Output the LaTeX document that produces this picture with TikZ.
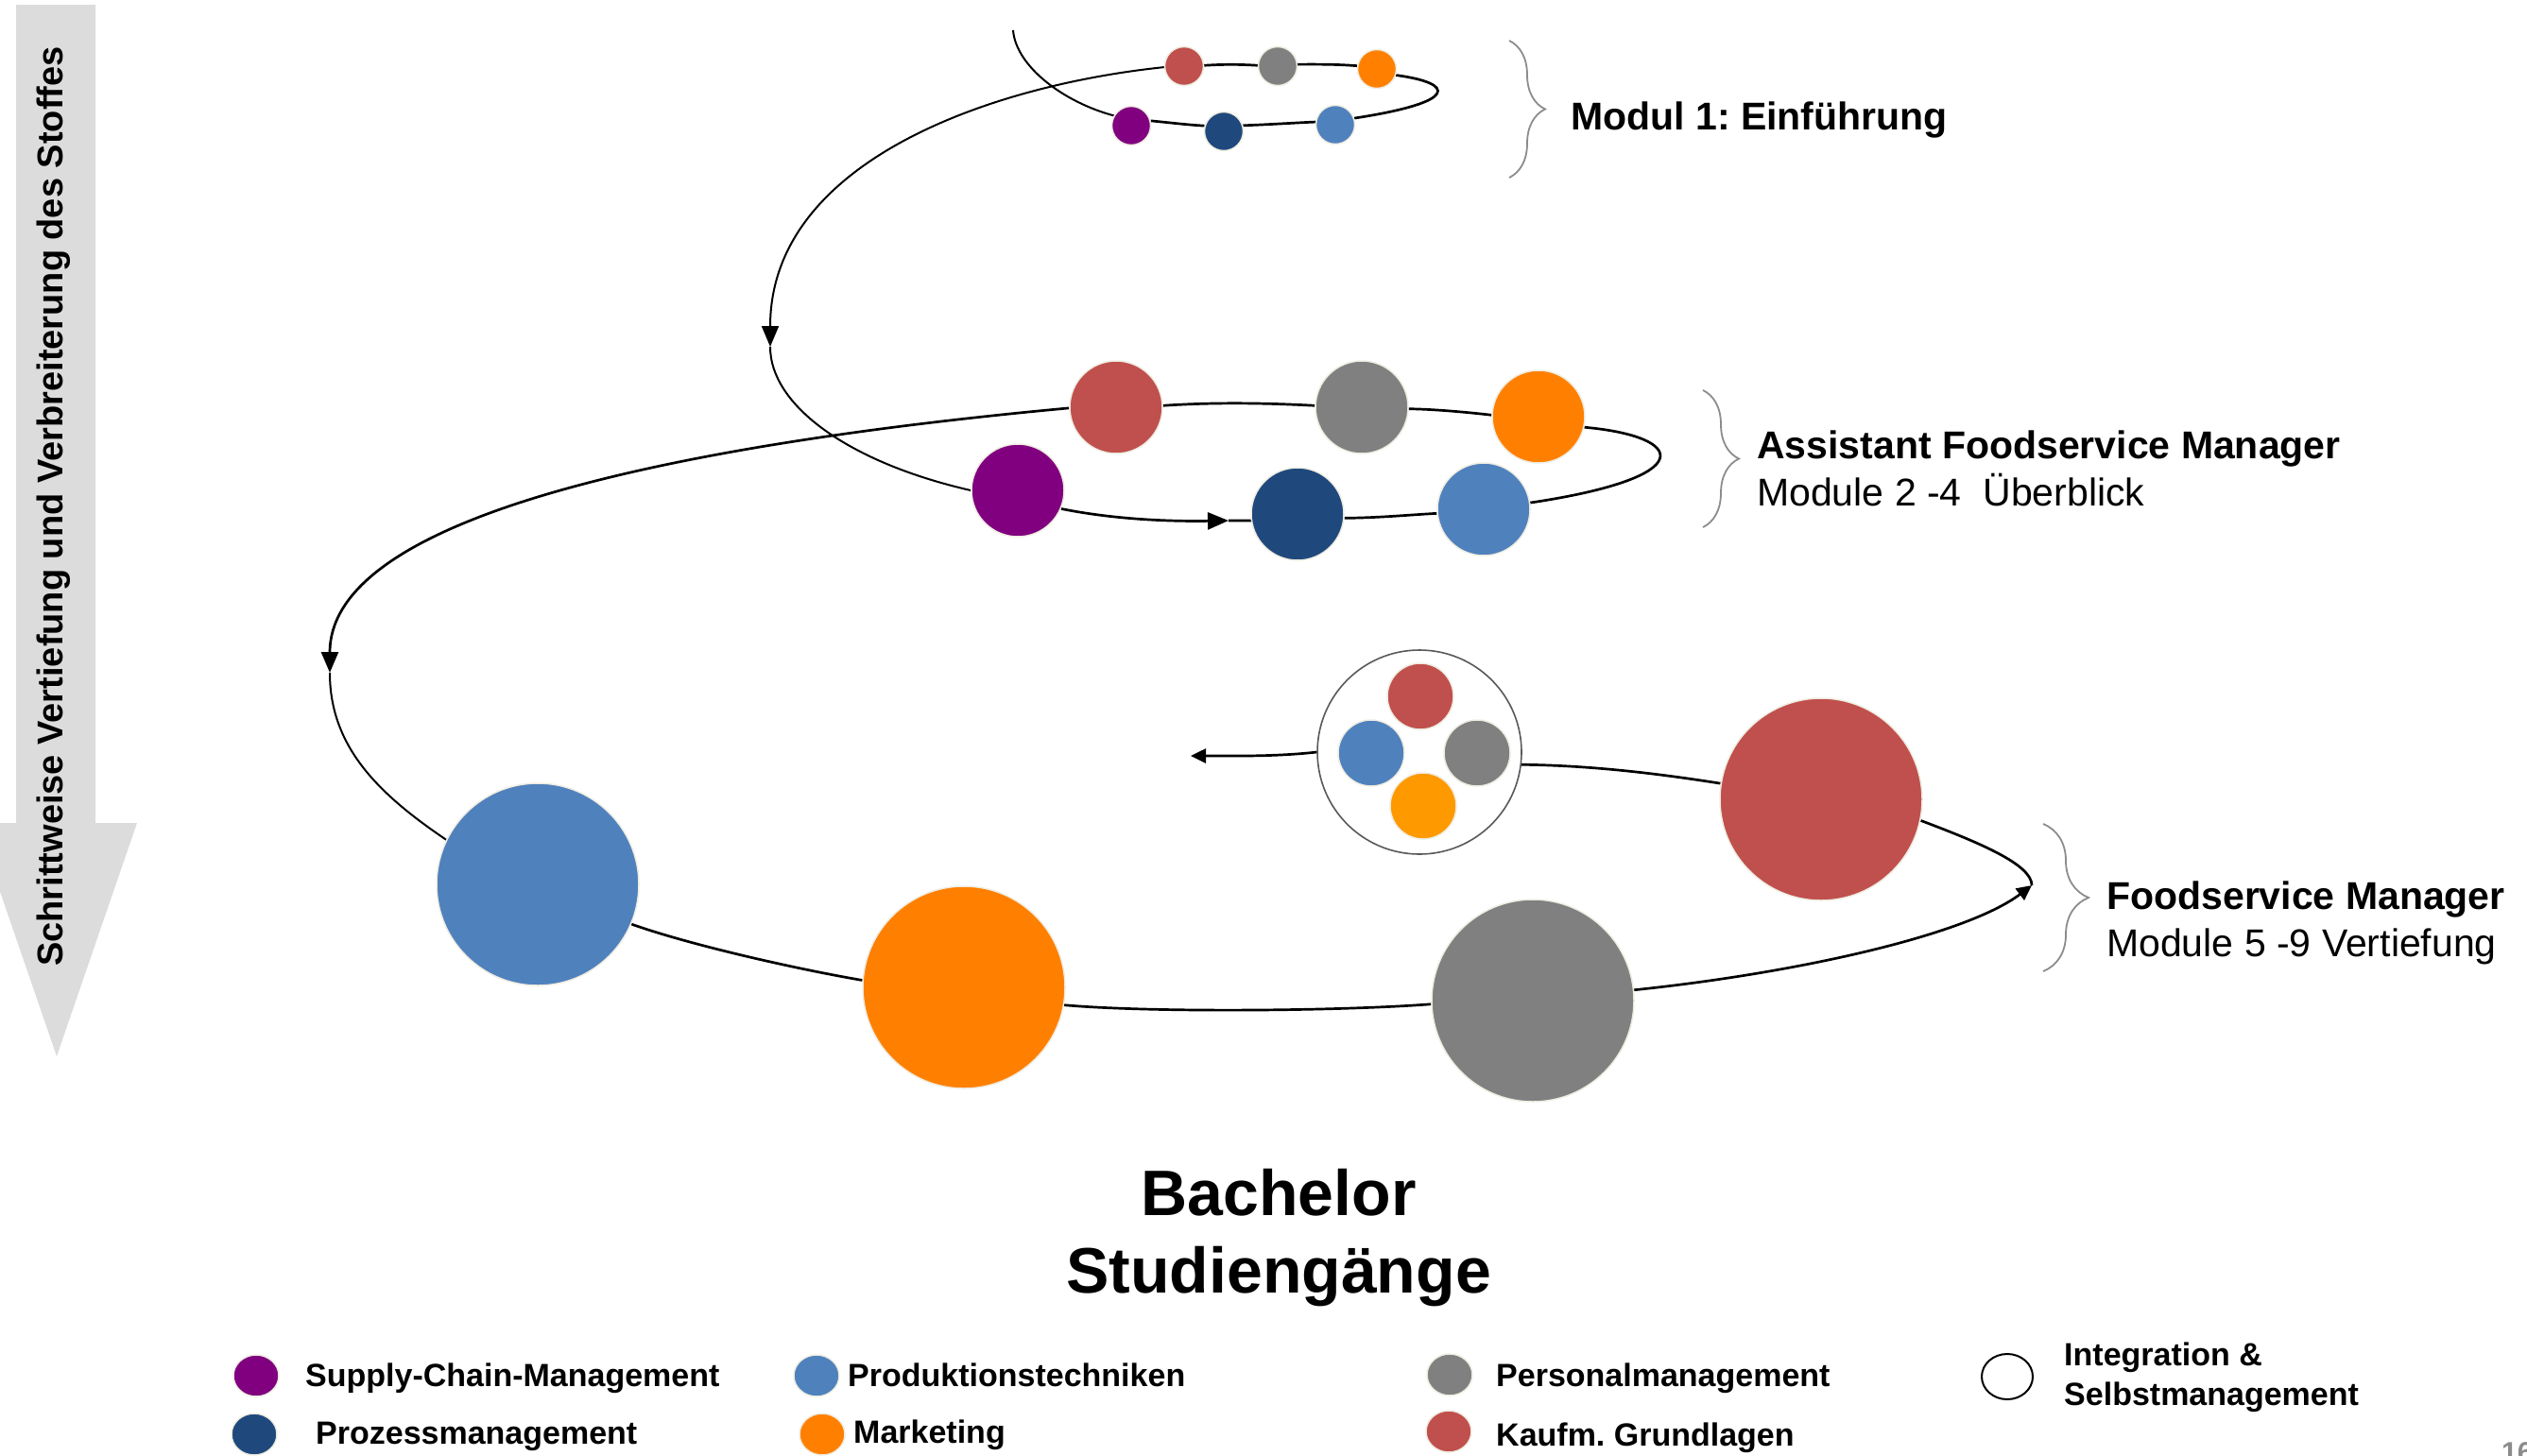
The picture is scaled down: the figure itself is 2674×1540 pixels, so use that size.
\documentclass[tikz,border=0pt]{standalone}
\usepackage{fontspec}
\setmainfont{Liberation Sans}
\usetikzlibrary{arrows.meta,decorations.pathreplacing,shapes.geometric,backgrounds}
\definecolor{cRed}{HTML}{C0504D}
\definecolor{cGray}{HTML}{808080}
\definecolor{cOrange}{HTML}{FF8000}
\definecolor{cPurple}{HTML}{800080}
\definecolor{cDark}{HTML}{1F497D}
\definecolor{cLight}{HTML}{4F81BD}
\definecolor{cOrangeB}{HTML}{FF9900}
\definecolor{cCream}{HTML}{EEECE1}
\definecolor{cArrow}{HTML}{DCDCDC}
\definecolor{cBrace}{HTML}{8C8C8C}
\definecolor{cRing}{HTML}{595959}
\frenchspacing
\begin{document}
\begin{tikzpicture}[x=1pt,y=-1pt,
  ball/.style={circle,fill=#1,draw=cCream,line width=1.5pt,inner sep=0pt},
  sA/.style={minimum size=41pt},
  sB/.style={minimum size=98pt},
  sC/.style={minimum size=214pt},
  sD/.style={minimum size=70pt},
  legdot/.style={ellipse,fill=#1,draw=cCream,line width=1.5pt,inner sep=0pt,minimum width=48pt,minimum height=44pt},
  orbit/.style={line width=2.7pt},
  spiral/.style={line width=2pt},
  bigtip/.style={-{Triangle[length=22pt,width=18pt]}},
  smalltip/.style={-{Triangle[length=16pt,width=15pt]}},
  bracestyle/.style={draw=cBrace,line width=1.8pt,decorate,decoration={brace,amplitude=#1}},
  lab/.style={font=\fontsize{41}{49}\selectfont,anchor=base west,inner sep=0pt},
  labb/.style={font=\bfseries\fontsize{41}{49}\selectfont,anchor=base west,inner sep=0pt},
  leg/.style={font=\bfseries\fontsize{34}{40}\selectfont,anchor=base west,inner sep=0pt},
]
\useasboundingbox (0,0) rectangle (2674,1540);

% side arrow
\fill[cArrow] (17,5) -- (101,5) -- (101,871) -- (145,871) -- (60,1118) -- (-25,871) -- (17,871) -- cycle;
\node[rotate=90,anchor=base west,inner sep=0pt,font=\bfseries\fontsize{38}{44}\selectfont] (side) at (66,1023) {Schrittweise Vertiefung und Verbreiterung des Stoffes};

% level 1
\node[ball=cRed,sA] (r1) at (1253,70) {};
\node[ball=cGray,sA] (g1) at (1352,70) {};
\node[ball=cOrange,sA] (o1) at (1457,73) {};
\node[ball=cPurple,sA] (p1) at (1197,133) {};
\node[ball=cDark,sA] (d1) at (1295,139) {};
\node[ball=cLight,sA] (l1) at (1413,132) {};

% level 2
\node[ball=cRed,sB] (r2) at (1181,431) {};
\node[ball=cGray,sB] (g2) at (1441,431) {};
\node[ball=cOrange,sB] (o2) at (1628,441) {};
\node[ball=cPurple,sB] (p2) at (1077,519) {};
\node[ball=cDark,sB] (d2) at (1373,544) {};
\node[ball=cLight,sB] (l2) at (1570,539) {};

% level 3
\node[ball=cLight,sC] (l3) at (569,936) {};
\node[ball=cOrange,sC] (o3) at (1020,1045) {};
\node[ball=cGray,sC] (g3) at (1622,1059) {};
\node[ball=cRed,sC] (r3) at (1927,846) {};
\node[circle,draw=cRing,line width=1.6pt,fill=white,minimum size=216pt,inner sep=0pt] (ig) at (1502,796) {};
\node[ball=cRed,sD] (ir) at (1503,737) {};
\node[ball=cLight,sD] (ib) at (1451,797) {};
\node[ball=cGray,sD] (igr) at (1563,797) {};
\node[ball=cOrangeB,sD] (io) at (1506,853) {};

% free ends / arrow tips
\coordinate (start) at (1072,32);
\coordinate (t1) at (815,367);
\coordinate (t2) at (1300,551);
\coordinate (t3) at (349,712);
\coordinate (t4) at (2150,937);
\coordinate (t5) at (1260,800);

\begin{pgfonlayer}{background}
% level 1 orbit
\draw[spiral] (start) .. controls (1075,70) and (1125,108) .. (p1.150);
\draw[orbit] (p1.14) .. controls (1240,130) and (1255,132) .. (d1.164);
\draw[orbit] (d1.17) .. controls (1340,132) and (1370,130) .. (l1.172);
\draw[orbit] (l1.19) .. controls (1545,108) and (1540,88) .. (o1.-18);
\draw[orbit] (o1.171) .. controls (1415,68) and (1395,68) .. (g1.5);
\draw[orbit] (g1.178) .. controls (1310,68) and (1295,68) .. (r1.2);
\draw[spiral,bigtip] (r1.183) .. controls (1050,90) and (815,170) .. (t1);
% level 2 orbit
\draw[spiral] (t1) .. controls (815,430) and (900,490) .. (p2.180);
\draw[orbit,bigtip] (p2.-23) .. controls (1180,550) and (1240,552) .. (t2);
\draw[orbit] (t2) -- (d2.188);
\draw[orbit] (d2.-5) .. controls (1460,548) and (1490,545) .. (l2.185);
\draw[orbit] (l2.8) .. controls (1800,505) and (1785,462) .. (o2.-13);
\draw[orbit] (o2.178) .. controls (1550,436) and (1515,433) .. (g2.-2);
\draw[orbit] (g2.178) .. controls (1330,426) and (1280,426) .. (r2.2);
\draw[orbit,bigtip] (r2.181) .. controls (720,470) and (349,545) .. (t3);
% level 3 orbit
\draw[spiral] (t3) .. controls (349,790) and (400,840) .. (l3.154);
\draw[orbit] (l3.-23) .. controls (730,1000) and (840,1025) .. (o3.176);
\draw[orbit] (o3.-10) .. controls (1220,1072) and (1420,1070) .. (g3.182);
\draw[orbit,smalltip] (g3.6) .. controls (1900,1030) and (2080,990) .. (t4);
\draw[orbit] (r3.-12) .. controls (2095,892) and (2150,915) .. (t4);
\draw[orbit] (r3.171) .. controls (1750,818) and (1680,810) .. (ig.-7);
\draw[orbit,smalltip] (ig.180) .. controls (1350,801) and (1300,800) .. (t5);
\end{pgfonlayer}

% braces and labels
\draw[bracestyle=38pt] (1597,43) -- (1597,188);
\draw[bracestyle=38pt] (1802,413) -- (1802,558);
\draw[bracestyle=48pt] (2162,872) -- (2162,1028);
\node[labb] (m1) at (1662,137) {Modul 1: Einführung};
\node[labb] (m2a) at (1859,485) {Assistant Foodservice Manager};
\node[lab] (m2b) at (1859,535) {Module 2 -4\ \ Überblick};
\node[labb] (m3a) at (2229,962) {Foodservice Manager};
\node[lab] (m3b) at (2229,1012) {Module 5 -9 Vertiefung};

% title
\node[anchor=base,inner sep=0pt,font=\bfseries\fontsize{68}{82}\selectfont] (bach) at (1353,1286) {Bachelor};
\node[anchor=base,inner sep=0pt,font=\bfseries\fontsize{68}{82}\selectfont] (stud) at (1353,1368) {Studiengänge};

% legend
\node[legdot=cPurple] (k1) at (271,1456) {};
\node[leg] (k1t) at (323,1467) {Supply-Chain-Management};
\node[legdot=cDark] (k2) at (269,1518) {};
\node[leg] (k2t) at (334,1528) {Prozessmanagement};
\node[legdot=cLight] (k3) at (864,1456) {};
\node[leg] (k3t) at (897,1467) {Produktionstechniken};
\node[legdot=cOrange] (k4) at (870,1518) {};
\node[leg] (k4t) at (903,1527) {Marketing};
\node[legdot=cGray] (k5) at (1534,1455) {};
\node[leg] (k5t) at (1583,1467) {Personalmanagement};
\node[legdot=cRed] (k6) at (1533,1515) {};
\node[leg] (k6t) at (1583,1530) {Kaufm. Grundlagen};
\node[ellipse,draw=black,line width=2pt,fill=white,inner sep=0pt,minimum width=54pt,minimum height=48pt] (k7) at (2124,1457) {};
\node[leg] (k7a) at (2184,1445) {Integration \&};
\node[leg] (k7b) at (2184,1487) {Selbstmanagement};

% page number fragment
\begin{scope}
\clip (0,0) rectangle (2674,1540);
\node[anchor=north west,inner sep=0pt,text=cBrace,font=\bfseries\fontsize{30}{36}\selectfont] (pg) at (2647,1526) {16};
\end{scope}
\end{tikzpicture}
\end{document}
